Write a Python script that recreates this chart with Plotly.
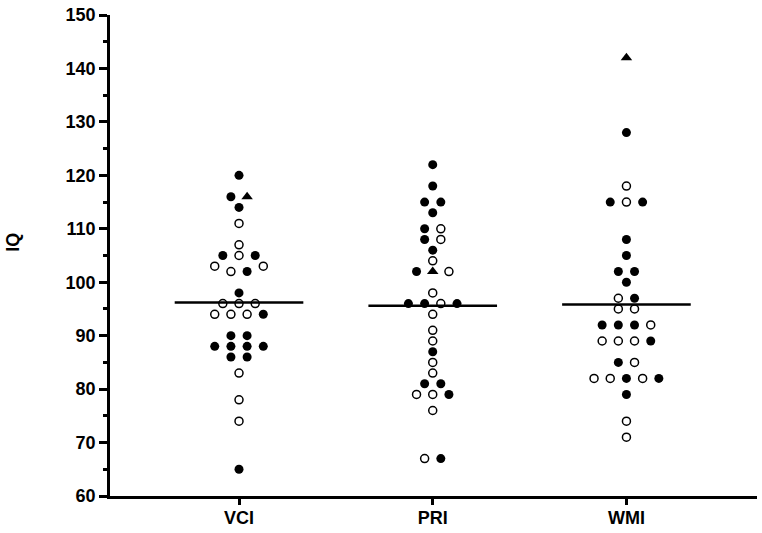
import plotly.graph_objects as go

# ---- data ----
categories = ["VCI", "PRI", "WMI"]

# IQ values (one entry per row of dots) and the marker type of each dot in that row,
# left to right: F = filled circle, O = open circle, T = filled triangle, . = empty slot
vci_values = [120, 116, 114, 111, 107, 105, 103, 102, 98, 96, 94, 90, 88, 86, 83, 78, 74, 65]
vci_marks = ["F", "FT", "F", "O", "O", "FOF", "O..O", "OF", "F", "OOO", "OOOF", "FF", "FFFF", "FF", "O", "O", "O", "F"]

pri_values = [122, 118, 115, 113, 110, 108, 106, 104, 102, 98, 96, 94, 91, 89, 87, 85, 83, 81, 79, 76, 67]
pri_marks = ["F", "F", "FF", "F", "FO", "FO", "F", "O", "FTO", "O", "FFOF", "O", "O", "O", "F", "O", "O", "FF", "OOF", "O", "OF"]

wmi_values = [142, 128, 118, 115, 108, 105, 102, 100, 97, 95, 92, 89, 85, 82, 79, 74, 71]
wmi_marks = ["T", "F", "O", "FOF", "F", "F", "FF", "F", "OF", "OO", "FFFO", "OOOF", "FO", "OOFOF", "F", "O", "O"]

y_ticks = [60, 70, 80, 90, 100, 110, 120, 130, 140, 150]

groups = [(vci_values, vci_marks), (pri_values, pri_marks), (wmi_values, wmi_marks)]

# ---- layout constants ----
STEP = 0.0836      # horizontal spacing between dots in a row (category units)
HALF = 0.332       # half-width of mean line

fig = go.Figure()

pts = {"F": ([], []), "O": ([], []), "T": ([], [])}
for ci, (vals, marks) in enumerate(groups):
    allv = []
    for v, row in zip(vals, marks):
        n = len(row)
        for k, ch in enumerate(row):
            if ch == ".":
                continue
            off = (k - (n - 1) / 2) * STEP
            pts[ch][0].append(ci + off)
            pts[ch][1].append(v)
            allv.append(v)
    mean = sum(allv) / len(allv)
    fig.add_trace(go.Scatter(x=[ci - HALF, ci + HALF], y=[mean, mean], mode="lines",
                             line=dict(color="black", width=2.6), showlegend=False,
                             hoverinfo="skip"))

fig.add_trace(go.Scatter(x=pts["F"][0], y=pts["F"][1], mode="markers",
                         marker=dict(symbol="circle", size=9, color="black"),
                         showlegend=False))
fig.add_trace(go.Scatter(x=pts["O"][0], y=pts["O"][1], mode="markers",
                         marker=dict(symbol="circle-open", size=8, color="black",
                                     line=dict(width=1.5, color="black")),
                         showlegend=False))
fig.add_trace(go.Scatter(x=pts["T"][0], y=pts["T"][1], mode="markers",
                         marker=dict(symbol="triangle-up", size=10, color="black"),
                         showlegend=False))

font_bold = dict(family="Liberation Sans, Arial, sans-serif", size=18, color="black", weight="bold")

fig.update_layout(
    width=762, height=533,
    margin=dict(l=110, r=5, t=13, b=35),
    plot_bgcolor="white", paper_bgcolor="white",
    xaxis=dict(range=[-0.666, 2.674], tickmode="array", tickvals=[0, 1, 2], ticktext=categories,
               showline=True, linecolor="black", linewidth=2.7, ticks="outside",
               tickwidth=2.5, ticklen=6, tickcolor="black", showgrid=False, zeroline=False,
               tickfont=font_bold, ticklabelstandoff=-2),
    yaxis=dict(range=[60, 150], tickmode="array", tickvals=y_ticks,
               ticktext=[str(t) for t in y_ticks],
               showline=True, linecolor="black", linewidth=2.7, ticks="outside",
               tickwidth=2.5, ticklen=8, tickcolor="black", showgrid=False, zeroline=False,
               tickfont=font_bold,
               minor=dict(dtick=5, tick0=60, ticks="outside", ticklen=4, tickwidth=2.5,
                          tickcolor="black", showgrid=False)),
    annotations=[dict(text="IQ", xref="paper", yref="paper", x=-(110 - 13) / 647, y=(498.3 - 242) / 485,
                      xanchor="center", yanchor="middle", textangle=-90, showarrow=False,
                      font=font_bold)],
)

fig.write_html("out.html", config={"displayModeBar": False},
               post_script="document.body.style.margin='0';document.body.style.overflow='hidden';")
